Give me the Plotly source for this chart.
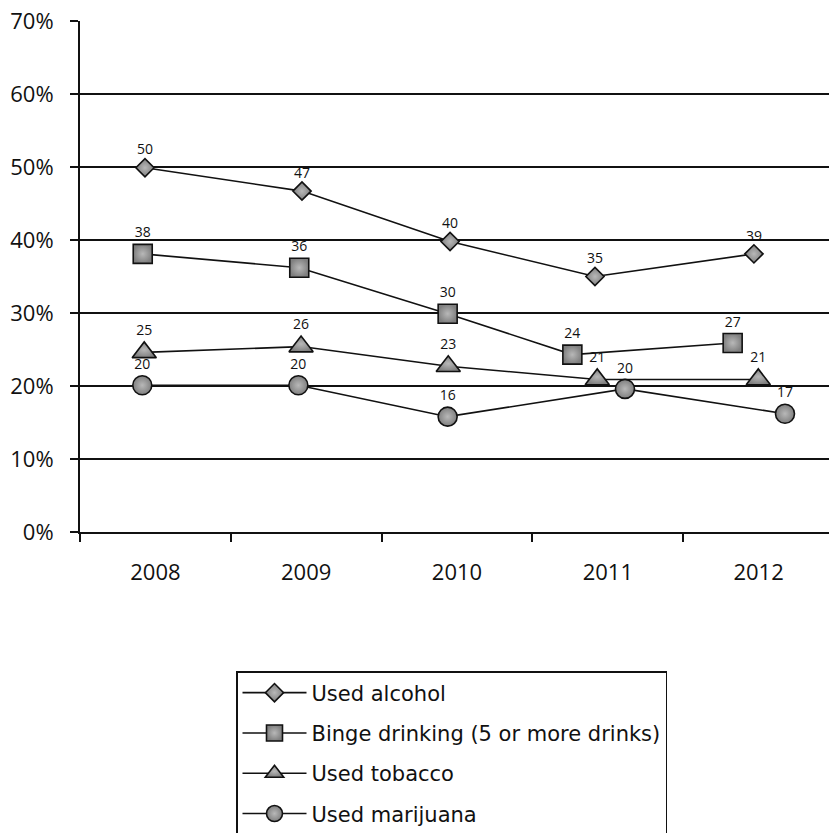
import plotly.graph_objects as go

years = [2008, 2009, 2010, 2011, 2012]
year_labels = ["2008", "2009", "2010", "2011", "2012"]

# marker x positions within each year slot, as drawn
alcohol_x = [2007.931, 2008.972, 2009.954, 2010.915, 2011.969]
binge_x = [2007.916, 2008.954, 2009.938, 2010.765, 2011.828]
tobacco_x = [2007.926, 2008.966, 2009.942, 2010.930, 2011.998]
marijuana_x = [2007.913, 2008.948, 2009.938, 2011.114, 2012.175]

# plotted heights (percent)
alcohol_y = [49.9, 46.7, 39.8, 35.0, 38.1]
binge_y = [38.1, 36.2, 29.9, 24.3, 25.9]
tobacco_y = [24.6, 25.4, 22.7, 20.9, 20.9]
marijuana_y = [20.1, 20.1, 15.8, 19.6, 16.2]

# printed data labels
alcohol_lbl = ["50", "47", "40", "35", "39"]
binge_lbl = ["38", "36", "30", "24", "27"]
tobacco_lbl = ["25", "26", "23", "21", "21"]
marijuana_lbl = ["20", "20", "16", "20", "17"]

series = [
    ("Used alcohol", alcohol_x, alcohol_y, alcohol_lbl, "diamond", 14),
    ("Binge drinking (5 or more drinks)", binge_x, binge_y, binge_lbl, "square", 19),
    ("Used tobacco", tobacco_x, tobacco_y, tobacco_lbl, "triangle-up", 21),
    ("Used marijuana", marijuana_x, marijuana_y, marijuana_lbl, "circle", 19),
]

fig = go.Figure()
for i, (name, xs, ys, lbl, sym, sz) in enumerate(series):
    fig.add_trace(go.Scatter(
        x=xs, y=ys, name=name, legendgroup=f"g{i}",
        mode="lines+markers+text",
        text=lbl, textposition="top center",
        textfont=dict(family="Open Sans", size=14, color="#111"),
        line=dict(color="#111", width=1.6),
        marker=dict(symbol=sym, size=sz, color="#7f7f7f",
                    gradient=dict(type="radial", color="#b8b8b8"),
                    line=dict(color="#111", width=1.6)),
        hoverinfo="skip", cliponaxis=False,
    ))

fig.update_layout(
    width=829, height=833,
    margin=dict(l=80, r=0, t=21, b=301, autoexpand=False),
    paper_bgcolor="white", plot_bgcolor="white",
    showlegend=True,
    legend=dict(
        xref="container", yref="container",
        x=236 / 829, y=1 - 671 / 833, xanchor="left", yanchor="top",
        font=dict(family="DejaVu Sans", size=21, color="#111"),
        bordercolor="#111", borderwidth=1.5, bgcolor="white",
        tracegroupgap=10, itemwidth=64,
    ),
    xaxis=dict(
        range=[2007.5, 2007.5 + 749 / 150.8],
        tickvals=years, ticktext=year_labels, ticks="",
        tickfont=dict(family="Open Sans", size=22, color="#111"),
        ticklabelstandoff=20, tickangle=0,
        showgrid=False, zeroline=False,
        showline=True, linecolor="#111", linewidth=2,
        minor=dict(tick0=2007.5, dtick=1, ticks="outside", ticklen=8,
                   tickwidth=1.5, tickcolor="#111", showgrid=False),
        fixedrange=True,
    ),
    yaxis=dict(
        range=[0, 70], dtick=10, ticksuffix="%",
        tickfont=dict(family="Open Sans", size=22, color="#111"),
        ticks="outside", ticklen=8, tickwidth=1.5, tickcolor="#111",
        ticklabelstandoff=12,
        showgrid=True, gridcolor="#111", gridwidth=1.5,
        zeroline=False,
        showline=True, linecolor="#111", linewidth=2,
        fixedrange=True,
    ),
)

fig.write_html("out.html")
